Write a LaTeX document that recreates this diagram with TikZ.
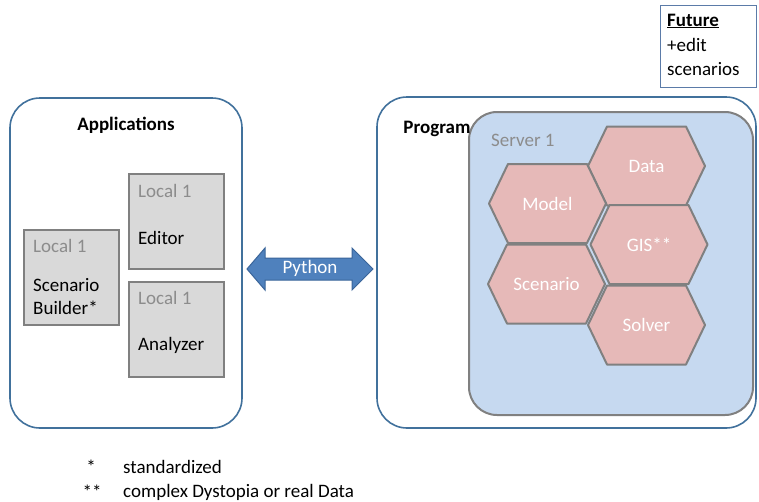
\documentclass[tikz,border=0pt]{standalone}
\usepackage{fontspec}
\setmainfont{Carlito}
\definecolor{framec}{HTML}{41719C}
\definecolor{localfill}{HTML}{D9D9D9}
\definecolor{greyline}{HTML}{808080}
\definecolor{greytext}{HTML}{8C8C8C}
\definecolor{serverfill}{HTML}{C6D9F0}
\definecolor{hexfill}{HTML}{E6B9B8}
\definecolor{arrowfill}{HTML}{4F81BD}
\definecolor{arrowline}{HTML}{3A659A}
\definecolor{futureline}{HTML}{5B7BA8}
\tikzset{
  frame/.style={draw=framec, line width=1.6pt, rounded corners=30pt, inner sep=0pt},
  localbox/.style={draw=greyline, fill=localfill, line width=2pt, inner sep=0pt, minimum width=95pt, minimum height=95pt},
  serverbox/.style={draw=greyline, fill=serverfill, line width=2pt, rounded corners=28pt, inner sep=0pt},
  hex/.style={draw=greyline, fill=hexfill, line width=2pt, line join=round},
  hextext/.style={text=white},
  greylbl/.style={text=greytext, anchor=west, inner sep=0pt},
  lbl/.style={anchor=west, inner sep=0pt},
  title/.style={font=\fontsize{19}{23}\selectfont\bfseries, inner sep=0pt},
}
% hexagon cell: name, centre x, centre y, label
\newcommand\hexcell[4]{%
  \draw[hex] (#2-58.5,#3) -- ++(19,-39.5) -- ++(79,0) -- ++(19,39.5)
    -- ++(-19,39.5) -- ++(-79,0) -- cycle;
  \node[hextext] (#1) at (#2,#3) {#4};}
\begin{document}
\begin{tikzpicture}[x=1pt,y=-1pt,font=\fontsize{19}{23}\selectfont]
\useasboundingbox[fill=white] (0,0) rectangle (759,501);

% Applications side
\node[frame, minimum width=232pt, minimum height=330pt] (apps) at (126,263) {};
\node[title] (appstitle) at (126,125) {Applications};
\node[localbox] (sb) at (71.5,277.5) {};
\node[localbox] (editor) at (176.5,221.5) {};
\node[localbox] (analyzer) at (176.5,329.5) {};
\node[greylbl] (sbloc) at (33,246) {Local 1};
\node[lbl] (sbname1) at (33,285) {Scenario};
\node[lbl] (sbname2) at (33,308) {Builder*};
\node[greylbl] (edloc) at (138,191) {Local 1};
\node[lbl] (edname) at (138,238) {Editor};
\node[greylbl] (anloc) at (138,298) {Local 1};
\node[lbl] (anname) at (138,345) {Analyzer};

% Program side
\node[frame, minimum width=379pt, minimum height=331pt] (prog) at (566.5,262.5) {};
\node[serverbox, minimum width=284pt, minimum height=303pt] (server) at (611,263.5) {};
\node[title] (progtitle) at (437,129) {Program};
\node[greylbl] (serverlbl) at (491,140) {Server 1};
\hexcell{data}{646.5}{166}{Data}
\hexcell{model}{547.5}{203.5}{Model}
\hexcell{gis}{649}{244.5}{GIS**}
\hexcell{scen}{546.5}{284}{Scenario}
\hexcell{solver}{646.5}{325}{Solver}

% Python link
\draw[fill=arrowfill, draw=arrowline, line width=1pt, line join=miter]
  (247,269) -- (265,248) -- (265,258) -- (352,258) -- (352,248) -- (373,269)
  -- (352,290) -- (352,280) -- (265,280) -- (265,290) -- cycle;
\node[text=white, inner sep=0pt] (python) at (310,268) {Python};

% Future note
\node[draw=futureline, line width=1pt, minimum width=96pt, minimum height=82pt, inner sep=0pt] (future) at (708,46) {};
\node[lbl] (futt) at (667,21) {\underline{\textbf{Future}}};
\node[lbl] (fut1) at (667,45) {+edit};
\node[lbl] (fut2) at (667,69) {scenarios};

% Footnotes
\node[inner sep=0pt] (star1) at (91,467) {*};
\node[lbl] (note1) at (123,467) {standardized};
\node[inner sep=0pt] (star2) at (92,492) {**};
\node[lbl] (note2) at (123,492) {complex Dystopia or real Data};
\end{tikzpicture}
\end{document}
